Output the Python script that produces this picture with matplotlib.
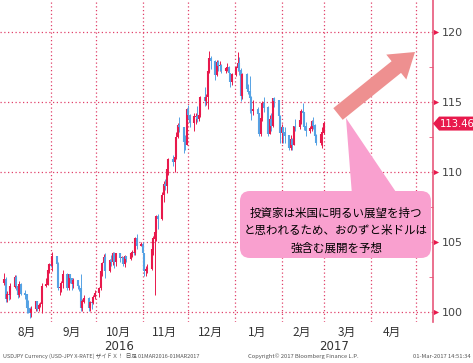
import matplotlib
matplotlib.use("Agg")
import matplotlib.pyplot as plt
import matplotlib.patches as patches
import matplotlib.dates as mdates
import matplotlib.transforms as mtransforms
import pandas as pd

plt.rcParams['font.family'] = ['Noto Sans CJK JP', 'DejaVu Sans']

# 日足 (2016-08-01 .. 2017-03-01, 平日)
DATES = pd.bdate_range("2016-08-01", "2017-03-01")

OPEN = [
    # Aug
    102.05, 102.35, 100.95, 101.25, 101.20, 101.80, 102.45, 101.85, 101.25, 101.95,
    101.30, 101.25, 100.30, 100.25, 99.95, 100.20, 100.75, 100.25, 100.50, 100.55,
    101.85, 101.95, 102.95,
    # Sep
    103.40, 103.30, 103.95, 103.40, 101.70, 101.75, 102.05, 102.70, 101.75, 102.65,
    102.40, 102.00, 102.25, 101.85, 101.70, 100.30, 100.75, 100.95, 100.30, 100.70,
    100.65, 101.05,
    # Oct
    101.35, 101.70, 102.90, 103.50, 103.90, 102.95, 103.65, 103.55, 104.20, 103.60,
    104.15, 103.85, 103.90, 103.45, 103.95, 103.80, 104.20, 104.25, 104.20, 105.25,
    104.70,
    # Nov
    104.80, 104.20, 102.95, 103.05, 103.10, 104.45, 105.25, 105.65, 106.80, 106.65,
    108.35, 109.10, 109.00, 110.20, 110.90, 110.75, 111.05, 112.50, 113.35, 113.20,
    112.15, 111.95,
    # Dec
    114.45, 114.05, 113.50, 113.95, 113.95, 113.80, 114.05, 115.30, 115.05, 115.35,
    117.15, 118.10, 117.90, 116.95, 117.85, 117.55, 117.60, 117.25, 117.40, 117.45,
    117.05, 116.40,
    # Jan
    116.95, 117.45, 117.75, 117.25, 115.40, 116.95, 115.95, 115.75, 115.30, 114.35,
    114.50, 114.15, 112.75, 113.85, 114.90, 114.60, 112.75, 113.75, 113.30, 115.25,
    115.10, 114.00,
    # Feb
    112.80, 113.20, 112.80, 112.60, 111.75, 112.30, 111.95, 113.25, 113.20, 113.70,
    114.30, 114.25, 113.25, 112.90, 113.10, 113.60, 113.30, 112.60, 112.10, 112.70,
    # Mar
    112.80,
]
HIGH = [
    102.80, 102.50, 101.50, 101.40, 102.05, 102.65, 102.65, 101.95, 102.20, 102.05,
    101.55, 101.30, 100.85, 100.35, 100.45, 100.80, 100.80, 100.65, 100.70, 102.05,
    102.40, 103.00, 103.50,
    104.00, 104.30, 104.00, 103.55, 102.10, 102.20, 103.00, 102.80, 102.75, 102.75,
    102.45, 102.45, 102.30, 101.95, 102.75, 100.95, 101.25, 101.10, 100.80, 100.95,
    101.25, 101.55,
    101.80, 102.95, 103.55, 104.15, 104.20, 103.80, 104.05, 104.30, 104.30, 104.20,
    104.20, 104.00, 103.95, 104.10, 104.00, 104.30, 104.45, 104.35, 105.35, 105.55,
    105.00,
    105.00, 104.25, 103.30, 103.45, 104.55, 105.45, 105.85, 106.95, 107.00, 108.55,
    109.35, 109.50, 110.35, 111.00, 111.20, 111.35, 112.85, 113.50, 113.90, 113.25,
    112.65, 114.55,
    114.80, 114.15, 114.25, 114.25, 114.75, 114.85, 115.40, 116.10, 115.55, 117.20,
    118.65, 118.30, 118.00, 118.00, 118.00, 117.95, 117.75, 117.50, 117.80, 117.60,
    117.10, 117.05,
    117.55, 118.60, 118.20, 117.45, 117.05, 117.05, 116.30, 116.85, 115.40, 115.15,
    114.65, 114.25, 113.90, 115.05, 115.35, 114.75, 114.05, 114.25, 115.30, 115.35,
    115.15, 114.10,
    113.45, 113.20, 113.20, 112.65, 112.65, 112.45, 113.30, 113.80, 113.90, 114.50,
    114.95, 114.30, 113.55, 113.30, 113.70, 113.90, 113.45, 112.75, 112.85, 113.25,
    113.65,
]
LOW = [
    101.90, 100.75, 100.70, 100.85, 100.95, 101.70, 101.60, 101.00, 101.05, 101.20,
    100.95, 99.90, 99.95, 99.55, 99.65, 100.05, 100.05, 100.10, 100.35, 99.95,
    101.80, 101.90, 102.80,
    103.20, 102.90, 103.20, 101.60, 101.20, 101.40, 101.70, 101.60, 101.60, 102.05,
    101.60, 101.75, 101.65, 101.50, 100.10, 100.10, 100.65, 100.10, 100.10, 100.20,
    100.55, 100.95,
    101.05, 101.60, 102.60, 103.25, 102.40, 102.85, 103.30, 103.35, 103.15, 103.30,
    103.55, 103.50, 103.30, 103.25, 103.55, 103.75, 103.95, 104.05, 104.10, 104.50,
    104.70,
    103.80, 102.55, 102.55, 102.80, 103.00, 104.10, 101.20, 105.10, 105.90, 106.60,
    107.85, 108.70, 108.50, 109.80, 110.40, 110.00, 110.95, 112.40, 112.85, 111.35,
    111.55, 111.90,
    113.80, 113.20, 112.90, 113.45, 113.60, 113.65, 113.95, 114.75, 114.80, 114.50,
    117.05, 117.35, 116.55, 116.85, 117.20, 117.20, 117.10, 117.10, 117.20, 116.80,
    116.05, 116.20,
    116.85, 117.20, 116.90, 115.05, 115.25, 115.80, 115.60, 114.25, 113.75, 114.05,
    113.95, 112.55, 112.55, 113.65, 114.30, 112.55, 112.70, 112.90, 113.25, 114.65,
    113.80, 112.10,
    112.10, 112.10, 112.05, 111.60, 111.60, 111.60, 111.90, 112.95, 113.10, 113.40,
    114.10, 113.00, 112.60, 112.80, 112.90, 113.05, 112.55, 111.95, 111.90, 111.70,
    112.75,
]
CLOSE = [
    102.35, 100.95, 101.25, 101.20, 101.80, 102.45, 101.85, 101.25, 101.95, 101.30,
    101.25, 100.30, 100.25, 99.95, 100.20, 100.75, 100.25, 100.50, 100.55, 101.85,
    101.95, 102.95, 103.40,
    103.30, 103.95, 103.40, 101.70, 101.75, 102.05, 102.70, 101.75, 102.65, 102.40,
    102.00, 102.25, 101.85, 101.70, 100.30, 100.75, 100.95, 100.30, 100.70, 100.65,
    101.05, 101.35,
    101.70, 102.90, 103.50, 103.90, 102.95, 103.65, 103.55, 104.20, 103.60, 104.15,
    103.85, 103.90, 103.45, 103.95, 103.80, 104.20, 104.25, 104.20, 105.25, 104.70,
    104.80,
    104.20, 102.95, 103.05, 103.10, 104.45, 105.25, 105.65, 106.80, 106.65, 108.35,
    109.10, 109.00, 110.20, 110.90, 110.75, 111.05, 112.50, 113.35, 113.20, 112.15,
    111.95, 114.45,
    114.05, 113.50, 113.95, 113.95, 113.80, 114.05, 115.30, 115.05, 115.35, 117.15,
    118.10, 117.90, 116.95, 117.85, 117.55, 117.60, 117.25, 117.40, 117.45, 117.05,
    116.40, 116.95,
    117.45, 117.75, 117.25, 115.40, 116.95, 115.95, 115.75, 115.30, 114.35, 114.50,
    114.15, 112.75, 113.85, 114.90, 114.60, 112.75, 113.75, 113.30, 115.25, 115.10,
    114.00, 112.80,
    113.20, 112.80, 112.60, 111.75, 112.30, 111.95, 113.25, 113.20, 113.70, 114.30,
    114.25, 113.25, 112.90, 113.10, 113.60, 113.30, 112.60, 112.10, 112.70, 112.80,
    113.46,
]
LAST_PRICE = "113.46"

MONTH_LABELS = ["8月", "9月", "10月", "11月", "12月", "1月", "2月", "3月", "4月"]
MONTH_MID = pd.to_datetime(["2016-08-16", "2016-09-15", "2016-10-16", "2016-11-15",
                            "2016-12-16", "2017-01-16", "2017-02-14", "2017-03-16",
                            "2017-04-15"])
MONTH_START = pd.to_datetime(["2016-09-01", "2016-10-01", "2016-11-01", "2016-12-01",
                              "2017-01-01", "2017-02-01", "2017-03-01", "2017-04-01",
                              "2017-05-01"])
YEARS = [("2016", "2016-10-16"), ("2017", "2017-03-08")]
Y_TICKS = [100, 105, 110, 115, 120]
Y_MINOR = [102.5, 107.5, 112.5, 117.5]

COMMENT = ["投資家は米国に明るい展望を持つ",
           "と思われるため、おのずと米ドルは",
           "強含む展開を予想"]

RED = "#e8194c"
BLUE = "#55a2e4"
GRID = "#e0406a"
W, H = 473, 363

fig = plt.figure(figsize=(W / 100, H / 100), dpi=100)
ax = fig.add_axes([0, 41 / H, 433 / W, 322 / H])

x = mdates.date2num(DATES)
for xi, o, h, l, c in zip(x, OPEN, HIGH, LOW, CLOSE):
    col = RED if c >= o else BLUE
    ax.vlines(xi, l, h, color=col, lw=0.7, zorder=3)
    ax.vlines(xi, min(o, c), max(o, c) + 0.03, color=col, lw=1.5, zorder=3)

x0 = mdates.date2num(pd.Timestamp("2016-08-01"))
ax.set_xlim(x0 - 2.65, x0 + 284.3)
ax.set_ylim(99.286, 122.286)

# grid
for v in Y_TICKS:
    ax.axhline(v, color=GRID, lw=0.9, ls=(0, (1, 2)), zorder=1)
for d in mdates.date2num(MONTH_START):
    ax.axvline(d, color=GRID, lw=0.9, ls=(0, (1, 2)), zorder=1)

for s in ["top", "left", "bottom"]:
    ax.spines[s].set_visible(False)
ax.spines["right"].set_color("#e8577a")
ax.spines["right"].set_linewidth(1.2)

ax.set_xticks(mdates.date2num(MONTH_MID))
ax.set_xticklabels(MONTH_LABELS)
ax.tick_params(axis="x", length=0, pad=3, labelsize=8.5, labelcolor="#333333")

ax.yaxis.tick_right()
ax.set_yticks(Y_TICKS)
ax.set_yticks(Y_MINOR, minor=True)
ax.tick_params(axis="y", which="major", length=0, pad=6.5, labelsize=8,
               labelcolor="#444444")
ax.tick_params(axis="y", which="minor", length=3, direction="in", color="#e8577a")
for lab in ax.get_yticklabels():
    lab.set_family("DejaVu Sans")

bt = mtransforms.blended_transform_factory(ax.transAxes, ax.transData)
ax.scatter([1.007] * len(Y_TICKS), Y_TICKS, marker=">", s=14, color=RED,
           transform=bt, clip_on=False, zorder=5, linewidths=0)

# last price tag
lp = float(LAST_PRICE)
tag = patches.Polygon([(1.0, lp), (1.014, lp + 0.5), (1.1, lp + 0.5),
                       (1.1, lp - 0.5), (1.014, lp - 0.5)], closed=True,
                      facecolor=RED, edgecolor="none", transform=bt, clip_on=False,
                      zorder=6)
ax.add_patch(tag)
ax.text(1.055, lp, LAST_PRICE, transform=bt, color="white", fontsize=7.2,
        ha="center", va="center", family="DejaVu Sans", zorder=7)

bx = mtransforms.blended_transform_factory(ax.transData, ax.transAxes)
for label, d in YEARS:
    ax.text(mdates.date2num(pd.Timestamp(d)), -0.075, label, transform=bx,
            ha="center", va="center", fontsize=8.5, color="#333333",
            family="DejaVu Sans")

# overlay in pixel coordinates for the callout
ov = fig.add_axes([0, 0, 1, 1], zorder=10)
ov.set_xlim(0, W)
ov.set_ylim(H, 0)
ov.axis("off")
ov.patch.set_alpha(0)

ov.add_patch(patches.FancyArrow(338, 114, 77, -62, width=15, head_width=32,
                                head_length=24, length_includes_head=True,
                                color="#ee9090", lw=0))
PINK = "#f9a0cf"
ov.add_patch(patches.Polygon([(346, 118), (352, 195), (398, 195)], closed=True,
                             facecolor=PINK, edgecolor="none"))
ov.add_patch(patches.FancyBboxPatch((240, 191), 191, 67,
                                    boxstyle="round,pad=0,rounding_size=10",
                                    facecolor=PINK, edgecolor="none"))
for i, line in enumerate(COMMENT):
    ov.text(336, 213 + i * 17.5, line, ha="center", va="center", fontsize=8.3,
            color="black")

ov.text(3, 356, "USDJPY Currency (USD-JPY X-RATE) ザイＦＸ！  日足 01MAR2016-01MAR2017",
        fontsize=4.0, color="#555555", va="center", ha="left")
ov.text(248, 356, "Copyright© 2017 Bloomberg Finance L.P.", fontsize=4.2,
        color="#555555", va="center", ha="left")
ov.text(471, 356, "01-Mar-2017 14:51:34", fontsize=4.2, color="#555555",
        va="center", ha="right")

fig.savefig("out.png", dpi=100)
